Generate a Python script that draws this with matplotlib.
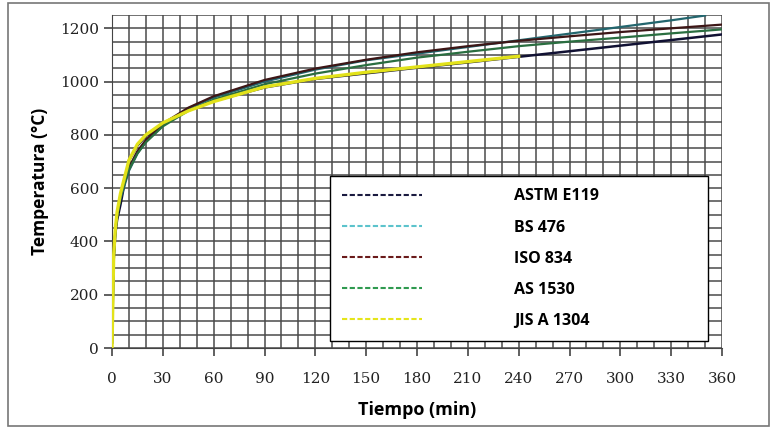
import numpy as np
import matplotlib
matplotlib.use("Agg")
import matplotlib.pyplot as plt
from matplotlib.patches import Rectangle
from matplotlib.lines import Line2D
from matplotlib.ticker import MultipleLocator

# curves (time in min, temperature in deg C)
t_astm = [0, 1, 2, 3, 5, 10, 15, 20, 30, 45, 60, 90, 120, 150, 180, 210, 240, 270, 300, 330, 360]
astm = [20, 330, 430, 480, 538, 704, 760, 795, 843, 893, 927, 978, 1010, 1031, 1052, 1072, 1093, 1114, 1135, 1156, 1177]

t_bs = [0, 1, 2, 3, 5, 10, 15, 20, 30, 45, 60, 90, 120, 150, 180, 210, 240, 270, 300, 330, 350]
bs476 = [20, 340, 440, 495, 560, 665, 730, 775, 835, 900, 940, 1000, 1045, 1080, 1105, 1130, 1155, 1180, 1205, 1230, 1248]

t_iso = [0, 1, 2, 3, 5, 10, 15, 20, 30, 45, 60, 90, 120, 150, 180, 210, 240, 270, 300, 330, 360]
iso834 = [20, 349, 445, 502, 576, 678, 739, 781, 842, 902, 945, 1006, 1049, 1082, 1110, 1133, 1153, 1170, 1186, 1200, 1214]

t_as = [0, 1, 2, 3, 5, 10, 15, 20, 30, 45, 60, 90, 120, 150, 180, 210, 240, 270, 300, 330, 360]
as1530 = [20, 340, 440, 495, 570, 670, 730, 772, 832, 890, 932, 990, 1030, 1062, 1090, 1112, 1133, 1150, 1165, 1181, 1196]

t_jis = [0, 1, 2, 3, 5, 10, 15, 20, 30, 45, 60, 90, 120, 150, 180, 210, 240]
jis = [0, 350, 450, 510, 580, 705, 765, 800, 845, 890, 925, 980, 1012, 1035, 1055, 1075, 1095]

series = [
    ("ASTM E119", t_astm, astm, "#111133", 1.8),
    ("BS 476", t_bs, bs476, "#23666e", 1.6),
    ("ISO 834", t_iso, iso834, "#3d1616", 1.6),
    ("AS 1530", t_as, as1530, "#2a6e40", 1.6),
    ("JIS A 1304", t_jis, jis, "#e2e21a", 2.4),
]
legend_colors = ["#1a1a40", "#5cc3cc", "#6a1a1a", "#2f9a50", "#e5e51a"]

fig = plt.figure(figsize=(7.7, 4.29), dpi=100)
fig.patches.append(Rectangle((8 / 770, 3 / 429), 761 / 770, 423 / 429, transform=fig.transFigure,
                             fill=False, edgecolor="#777777", linewidth=1.2))
ax = fig.add_axes([112 / 770, 81 / 429, 610 / 770, 333 / 429])

for name, t, v, c, lw in series:
    ax.plot(t, v, color=c, lw=lw, label=name, zorder=3)

ax.set_xlim(0, 360)
ax.set_ylim(0, 1250)
ax.xaxis.set_major_locator(MultipleLocator(30))
ax.xaxis.set_minor_locator(MultipleLocator(10))
ax.yaxis.set_major_locator(MultipleLocator(200))
ax.yaxis.set_minor_locator(MultipleLocator(50))
ax.grid(True, which="both", color="#4a4a4a", linewidth=1.1)
ax.set_axisbelow(True)
for s in ["top", "right"]:
    ax.spines[s].set_visible(False)
ax.spines["left"].set_color("#444444")
ax.spines["bottom"].set_color("#444444")
ax.tick_params(which="major", direction="out", length=6, color="#444444", width=1.2)
ax.tick_params(which="minor", length=0)
for lab in ax.get_xticklabels() + ax.get_yticklabels():
    lab.set_family("DejaVu Serif")
    lab.set_fontsize(11)
    lab.set_color("#222222")
ax.tick_params(axis="x", pad=11)

ax.set_xlabel("Tiempo (min)", family="Open Sans", fontweight="bold", fontsize=13, labelpad=11)
ax.set_ylabel("Temperatura (°C)", family="Open Sans", fontweight="bold", fontsize=12.5, labelpad=8)

handles = [Line2D([0], [0], color=c, lw=1.5, ls=(0, (2.5, 1.2))) for c in legend_colors]
leg = ax.legend(handles, [s[0] for s in series], loc="lower left",
                bbox_to_anchor=(330 / 770, 88 / 429, 378 / 770, 166 / 429),
                bbox_transform=fig.transFigure, mode="expand",
                prop={"family": "Open Sans", "weight": "bold", "size": 11.5},
                handlelength=5.0, handletextpad=5.8, labelspacing=0.95, borderpad=0.75,
                fancybox=False, framealpha=1, edgecolor="black", borderaxespad=0)
leg.get_frame().set_linewidth(1.0)
leg.set_zorder(5)

fig.savefig("out.png", dpi=100)
